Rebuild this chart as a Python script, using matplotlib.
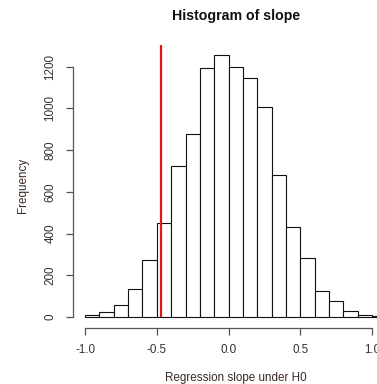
import numpy as np
import matplotlib
matplotlib.use('Agg')
import matplotlib.pyplot as plt

# histogram bins (left edges) and counts
bin_left = [-1.0, -0.9, -0.8, -0.7, -0.6, -0.5, -0.4, -0.3, -0.2, -0.1,
            0.0, 0.1, 0.2, 0.3, 0.4, 0.5, 0.6, 0.7, 0.8, 0.9, 1.0]
counts = [10, 24, 56, 136, 274, 453, 723, 878, 1195, 1254,
          1198, 1146, 1005, 680, 434, 283, 127, 79, 27, 12, 3]
bin_width = 0.1
observed_slope = -0.47

x_ticks = [-1.0, -0.5, 0.0, 0.5, 1.0]
y_ticks = [0, 200, 400, 600, 800, 1000, 1200]


def main():
    plt.rcParams['font.family'] = ['Liberation Sans', 'DejaVu Sans']
    W, H = 377, 384
    fig = plt.figure(figsize=(W / 100, H / 100), dpi=100)

    # plot region in pixels (runs past the right edge, as in the cropped original)
    left, right, top, bottom = 73, 398.5, 45, 327.5
    ax = fig.add_axes([left / W, 1 - bottom / H, (right - left) / W, (bottom - top) / H])

    ax.bar(bin_left, counts, width=bin_width, align='edge',
           facecolor='white', edgecolor='#111111', linewidth=0.8)

    # R style limits: range extended by 4%
    x0, x1 = bin_left[0], bin_left[-1] + bin_width
    dx = (x1 - x0) * 0.04
    ax.set_xlim(x0 - dx, x1 + dx)
    ymax = max(counts)
    ax.set_ylim(-ymax * 0.04, ymax * 1.04)

    ax.vlines(observed_slope, 0, ymax * 1.04, color='#e8141b', linewidth=1.6)

    for s in ['top', 'right']:
        ax.spines[s].set_visible(False)
    ax.spines['left'].set_bounds(y_ticks[0], y_ticks[-1])
    ax.spines['bottom'].set_bounds(x_ticks[0], x_ticks[-1])
    for s in ['left', 'bottom']:
        ax.spines[s].set_color('#555555')
        ax.spines[s].set_linewidth(0.9)

    ax.set_xticks(x_ticks)
    ax.set_xticklabels([f'{t:.1f}' for t in x_ticks])
    ax.set_yticks(y_ticks)
    ax.set_yticklabels([str(t) for t in y_ticks], rotation=90, va='center')
    ax.tick_params(axis='both', length=4.8, width=0.9, color='#555555',
                   labelsize=8.4, labelcolor='#333333')
    ax.tick_params(axis='x', pad=7)
    ax.tick_params(axis='y', pad=7)

    cx = (left + right) / 2 / W
    fig.text(cx, 1 - 16 / H, 'Histogram of slope', ha='center', va='center',
             fontsize=10.2, fontweight='bold', color='#111111')
    fig.text(cx, 1 - 378 / H, 'Regression slope under H0', ha='center', va='center',
             fontsize=8.4, color='#3a2a22')
    fig.text(23 / W, 1 - 185 / H, 'Frequency', ha='center', va='center',
             rotation=90, fontsize=8.4, color='#3a2a22')

    fig.savefig('out.png', dpi=100)


if __name__ == '__main__':
    main()
